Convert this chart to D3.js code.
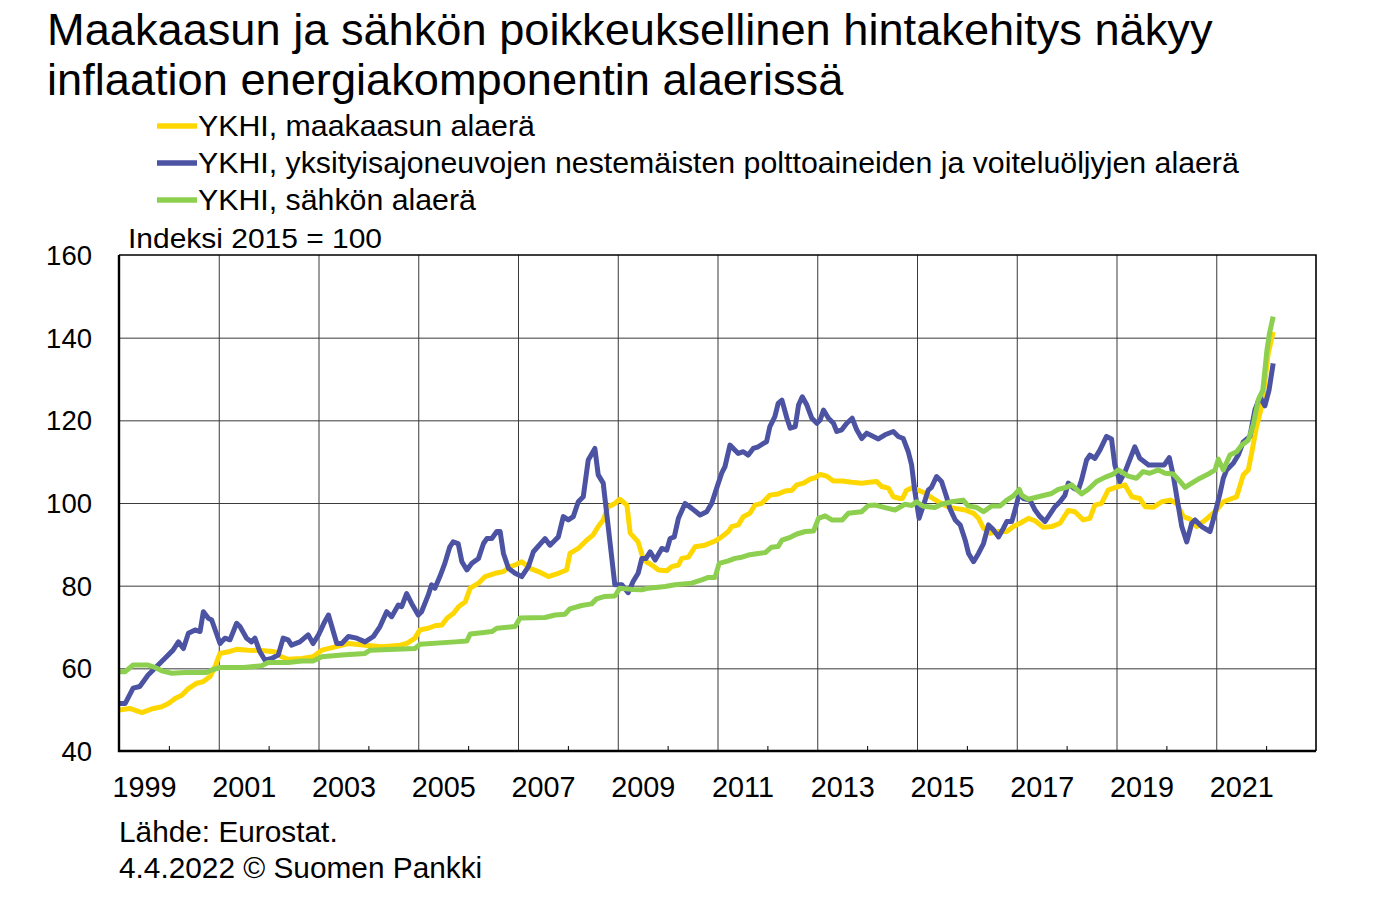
<!DOCTYPE html>
<html>
<head>
<meta charset="utf-8">
<script src="https://cdn.jsdelivr.net/npm/d3@7"></script>
<style>
  html, body { margin: 0; padding: 0; background: #fff; }
  svg { display: block; font-family: "Liberation Sans", Arial, sans-serif; }
</style>
</head>
<body>
<svg id="chart" width="1387" height="906"></svg>
<script>
// ---- data (month index: 0 = Jan 1999) ----
const titleLines = ["Maakaasun ja sähkön poikkeuksellinen hintakehitys näkyy",
                    "inflaation energiakomponentin alaerissä"];
const seriesNames = ["YKHI, maakaasun alaerä",
                     "YKHI, yksityisajoneuvojen nestemäisten polttoaineiden ja voiteluöljyjen alaerä",
                     "YKHI, sähkön alaerä"];
const yTicks = [40, 60, 80, 100, 120, 140, 160];
const yearLabels = [1999, 2001, 2003, 2005, 2007, 2009, 2011, 2013, 2015, 2017, 2019, 2021];
const unitLabel = "Indeksi 2015 = 100";
const footerLines = ["Lähde: Eurostat.", "4.4.2022 © Suomen Pankki"];

const gasMonths = [0,2.6,5.5,8.3,10.3,11.9,13.5,15.1,16.7,18.7,20.3,21.9,23.1,24.3,26.3,28.3,31.1,34.3,37.5,39.1,40.7,44,46.7,48.8,52,55.2,59.2,63.2,67.2,69.2,71.2,72.4,74.4,76,77.7,78.9,80.5,81.7,83.3,84.5,86.5,88.1,90.5,92.5,94.1,95.3,96.9,98.9,100.9,103.3,105.7,107.7,108.5,110.5,112.5,114.1,115.3,116.5,117.7,119.3,120.5,122.2,123,124.9,126.2,128.2,129.8,131.8,133,134.6,135.4,137,138.6,141,143.4,145,146.6,147.4,149,150.2,151.8,153,154.6,156.6,158.6,160.3,161.9,163.1,164.7,166.3,167.5,168.7,170.3,171.9,174,176.3,178.7,180.5,182.3,183.5,185.1,186.3,187.9,188.5,189.5,190.7,191.8,193.5,195.8,197.8,199.9,201.2,203.6,205.6,206.8,208,209.6,211.6,213.6,215.2,216.8,218.8,220.4,222.4,224.4,226.4,228.4,230,232,233.6,234.8,236.4,238,239.6,242,243.7,245.6,246.9,248.9,250.9,252.9,254.5,256.1,257.7,259.3,260.9,262.1,264.1,265.7,267.3,268.9,270.5,271.7,272.5,273.7,274.9,275.7,276.5,277.7];
const gasValues = [49.9,50.3,49.3,50.3,50.7,51.5,52.7,53.5,55.1,56.4,56.8,58.0,60.4,63.6,64.0,64.6,64.4,64.3,64.0,62.8,62.2,62.4,62.8,64.4,65.2,66.0,65.6,65.2,65.5,66.0,67.3,69.3,69.7,70.3,70.5,72.1,73.3,74.9,76.1,79.4,80.6,82.2,83.0,83.4,84.6,85.0,85.8,84.2,83.4,82.2,83.0,83.8,87.8,89.0,91.0,92.3,94.3,95.9,99.1,99.9,100.9,99.5,92.7,90.6,86.2,85.0,83.8,83.6,84.6,85.0,86.6,86.9,89.4,89.8,90.8,91.8,93.1,94.3,94.7,96.7,97.5,99.5,99.9,101.9,102.2,102.9,103.1,104.4,104.8,105.8,106.1,106.9,106.5,105.3,105.3,105.0,104.8,105.0,105.2,104.0,103.6,101.5,101.1,101.1,103.1,103.6,103.3,102.6,101.1,99.9,98.9,98.7,98.3,97.5,96.3,93.9,92.7,93.1,93.1,94.3,95.1,96.3,95.7,94.1,94.3,95.1,98.2,97.9,95.9,96.3,99.5,99.9,103.1,103.7,104.4,101.5,101.1,99.1,99.0,100.3,100.7,99.9,96.7,96.1,94.3,95.5,96.5,98.3,100.3,100.9,101.5,106.8,108.0,112.0,118.5,123.3,129.3,136.2,141.4];

const fuelMonths = [0,1.5,3.4,5,7,9,11,13,14.3,15.5,16.7,18.3,19.5,20.3,21.5,22.3,24.3,25.5,26.7,28.3,29.1,30.7,31.9,32.7,33.9,35.1,36.7,38.3,39.5,40.7,41.5,43.5,45.5,46.7,48,49.5,50.4,52.4,53.6,55.2,57.2,59.2,61.2,62.8,64.4,65.6,67.2,68,69.2,70.4,72,72.8,74.4,75.2,76,77.2,78.4,79.6,80.4,81.6,82.5,83.7,84.9,86.5,87.7,88.5,89.7,90.9,91.7,92.5,93.7,95.3,96.9,98.5,99.7,102.5,103.7,104.9,105.7,106.9,108.1,109.3,110.5,111.7,112.9,114.5,115.3,116.5,117.7,119.3,121,122.5,123.7,124.9,125.8,126.8,127.8,129,130.6,131.8,132.6,133.6,134.6,136.2,137.8,139.8,141.4,142.6,143.8,145,145.8,147,149,150.2,151.4,152.6,153.8,155,155.8,156.6,157.8,158.6,159.5,160.7,161.5,162.7,163.5,164.4,165.5,166.7,167.9,168.7,169.5,170.7,171.9,172.7,173.9,175.1,176.4,177.5,178.7,179.9,181.5,182.7,184.3,186.3,187.5,188.7,189.9,190.7,191.5,192.5,193.5,194.7,195.5,196.7,197.9,199.1,199.9,201.2,202.4,203.6,204.4,205.6,206.8,208,209.2,210.4,211.6,212.8,213.6,214.8,215.6,216.6,217.6,219.2,220.4,221.6,222.8,223.6,225.2,226.4,227.6,228.4,229.7,230.8,231.6,232.8,233.6,234.8,236,237.6,238.8,239.6,240.8,242,244.4,245.6,247.7,249.7,251.5,252.7,253.7,254.9,255.7,256.9,258.1,258.9,260.5,262.5,263.7,264.9,265.7,266.5,268.1,269.3,270.5,272.1,273.3,274.5,275.7,276.7,277.7];
const fuelValues = [51.5,51.5,55.2,55.6,58.4,60.4,62.4,64.4,66.4,64.8,68.5,69.3,68.9,73.7,72.1,71.7,66.0,67.3,66.9,70.9,70.1,67.3,66.4,67.3,64.0,62.0,62.4,63.2,67.3,66.9,65.6,66.4,68.1,66.0,68.1,71.3,72.9,66.0,66.0,67.7,67.3,66.4,67.7,70.1,73.7,72.5,75.3,74.9,78.1,75.7,72.9,73.7,77.7,80.2,79.4,82.2,85.4,89.4,90.6,90.2,85.8,83.8,85.4,86.6,90.2,91.4,91.4,93.1,93.1,87.8,84.2,83.0,82.2,84.6,88.2,91.4,89.8,91.0,91.8,96.7,95.9,96.7,100.3,101.5,110.4,113.2,106.8,104.8,94.3,80.2,80.2,78.3,81.0,83.0,86.6,86.6,88.2,86.2,89.0,88.6,91.4,91.8,96.3,99.9,98.7,97.1,97.9,99.9,103.6,107.2,108.8,114.0,112.0,112.4,111.6,113.2,113.6,114.4,114.8,118.5,120.9,124.1,124.9,120.5,118.1,118.5,123.7,125.7,123.7,120.5,119.3,120.1,122.5,120.5,119.3,117.3,117.7,119.3,120.5,117.7,115.6,116.9,116.1,115.5,116.5,117.3,116.1,115.6,112.4,109.2,102.7,96.3,99.3,103.1,103.8,106.4,105.2,101.5,98.7,95.9,94.7,91.0,87.8,85.8,87.8,90.2,94.7,93.5,91.8,93.9,95.5,95.5,98.3,102.3,101.1,100.7,98.3,96.7,95.5,96.7,99.1,100.3,101.9,104.8,103.6,103.1,105.6,110.4,111.6,110.8,112.8,116.1,115.5,109.2,105.2,107.4,113.6,110.8,109.2,109.2,109.2,111.0,106.4,99.1,94.3,90.6,95.1,95.9,94.3,93.1,97.5,102.3,106.0,108.0,109.6,111.6,114.8,116.1,122.5,125.7,123.5,127.3,133.8];

const powerMonths = [0,1.5,3.4,7,8.7,10.3,12.7,16,21,22.3,24.3,30,34.3,35.9,40.7,44,46.7,48.8,53.6,59.2,60.4,71.2,72.4,80.9,83.7,84.5,87.3,89.7,90.9,95.3,96.5,102.5,104.9,107.3,108.5,111.3,113.7,114.9,116.9,119.3,120.5,123.4,125.8,127.4,131.4,133.8,137.8,140.2,141.8,143.4,144.4,146.6,148.2,149.5,151.4,153.8,155.5,157,158.6,159.5,161.5,163.1,165.1,167.1,168.3,169.9,171.5,174,175.5,177,178.7,180.3,182,184.3,186.7,189.1,190.7,191.9,193.5,196.3,197.9,200.3,203.1,204.3,206.4,208,210,212,213.6,215.2,216.6,217.2,218.8,221.2,224.4,226,228,229.2,231.6,233.2,235.2,237.2,239.2,240.4,242.8,244.8,246.4,248,250.1,251.7,253.7,255.3,256.5,258.1,260.1,262.1,263.7,264.5,265.7,267.3,268.9,270.1,271.7,272.9,274.1,275.2,276.2,276.8,277.7];
const powerValues = [59.2,59.2,60.8,60.8,60.2,59.4,58.8,59.0,59.0,59.6,60.2,60.2,60.6,61.4,61.4,61.8,61.8,62.8,63.2,63.6,64.4,64.8,65.8,66.4,66.6,68.3,68.6,68.9,69.7,70.1,72.2,72.3,72.9,73.1,74.4,75.2,75.6,76.8,77.4,77.5,79.4,79.1,79.0,79.4,79.8,80.2,80.6,81.4,82.0,82.0,85.4,86.0,86.6,86.8,87.4,87.8,88.0,89.3,89.5,91.0,91.7,92.5,93.1,93.2,96.3,96.9,95.9,95.9,97.5,97.7,97.9,99.4,99.5,98.9,98.3,99.7,99.4,100.3,99.2,98.9,99.7,100.3,100.7,99.3,98.9,97.9,99.3,99.3,100.7,101.7,103.3,101.9,100.9,101.5,102.3,103.3,103.8,104.4,102.2,103.3,105.2,106.2,107.0,108.0,106.5,106.0,107.6,107.2,108.0,107.2,107.0,105.2,103.8,104.8,106.0,107.0,108.0,110.6,108.0,111.6,112.4,114.0,115.2,118.9,124.9,127.3,137.0,141.0,145.1];

const seriesColors = ["#FFD700", "#4B53A2", "#8DCF4F"];

// ---- layout ----
const svg = d3.select("#chart");
const L = 119, R = 1316, T = 255, B = 751;
const x = d3.scaleLinear().domain([0, 288]).range([L, R]);
const y = d3.scaleLinear().domain([40, 160]).range([B, T]);

// title
svg.append("g").selectAll("text").data(titleLines).join("text")
  .attr("x", 47).attr("y", (d, i) => 45 + i * 50)
  .attr("font-size", 45.2).attr("fill", "#000").text(d => d);

// legend
const leg = svg.append("g").selectAll("g").data(seriesNames).join("g")
  .attr("transform", (d, i) => `translate(0, ${136 + i * 37})`);
leg.append("line").attr("x1", 157).attr("x2", 197).attr("y1", -10).attr("y2", -10)
  .attr("stroke", (d, i) => seriesColors[i]).attr("stroke-width", 5.5);
leg.append("text").attr("x", 198).attr("y", 0).attr("font-size", 30.3).text(d => d);

// unit label
svg.append("text").attr("x", 128).attr("y", 248).attr("font-size", 28)
  .attr("textLength", 254).attr("lengthAdjust", "spacingAndGlyphs").text(unitLabel);

// horizontal gridlines
svg.append("g").attr("transform", `translate(${L},0)`)
  .call(d3.axisLeft(y).tickValues(yTicks.filter(v => v > 40 && v < 160)).tickSize(-(R - L)).tickFormat(""))
  .call(g => g.select(".domain").remove())
  .call(g => g.selectAll(".tick line").attr("stroke", "#3a3a3a").attr("stroke-width", 1));

// vertical gridlines at every second year
const gridMonths = d3.range(24, 288, 24);
svg.append("g").attr("transform", `translate(0,${B})`)
  .call(d3.axisBottom(x).tickValues(gridMonths).tickSize(-(B - T)).tickFormat(""))
  .call(g => g.select(".domain").remove())
  .call(g => g.selectAll(".tick line").attr("stroke", "#3a3a3a").attr("stroke-width", 1));

// minor ticks (even years)
svg.append("g").attr("transform", `translate(0,${B})`)
  .call(d3.axisBottom(x).tickValues(d3.range(12, 288, 24)).tickSize(-5).tickFormat(""))
  .call(g => g.select(".domain").remove())
  .call(g => g.selectAll(".tick line").attr("stroke", "#000").attr("stroke-width", 1));

// frame top/right
svg.append("path").attr("d", `M${L},${T}H${R}V${B}`).attr("fill", "none")
  .attr("stroke", "#000").attr("stroke-width", 1.6);

// y labels
svg.append("g").attr("transform", `translate(${L},0)`)
  .call(d3.axisLeft(y).tickValues(yTicks).tickSize(0).tickPadding(27))
  .call(g => g.select(".domain").remove())
  .call(g => g.selectAll("text").attr("font-size", 27.5).attr("font-family", "Liberation Sans, Arial, sans-serif")
    .attr("fill", "#000").attr("dy", "0.34em"));

// x labels (centred in each odd year)
svg.append("g").attr("transform", `translate(0,${B})`)
  .call(d3.axisBottom(x).tickValues(yearLabels.map(yr => (yr - 1999) * 12 + 6)).tickSize(0).tickPadding(0)
    .tickFormat(m => String(1999 + Math.floor(m / 12))))
  .call(g => g.select(".domain").remove())
  .call(g => g.selectAll("text").attr("font-size", 28.8).attr("font-family", "Liberation Sans, Arial, sans-serif")
    .attr("fill", "#000").attr("y", 46).attr("dy", 0));

// series lines
const line = d3.line().x(d => x(d[0])).y(d => y(d[1]));
const series = [
  d3.zip(gasMonths, gasValues),
  d3.zip(fuelMonths, fuelValues),
  d3.zip(powerMonths, powerValues)
];
svg.append("g").selectAll("path").data(series).join("path")
  .attr("d", line).attr("fill", "none")
  .attr("stroke", (d, i) => seriesColors[i]).attr("stroke-width", 5)
  .attr("stroke-linejoin", "round").attr("stroke-linecap", "butt");

// axes lines (left and bottom)
svg.append("path").attr("d", `M${L},${T}V${B}H${R}`).attr("fill", "none")
  .attr("stroke", "#000").attr("stroke-width", 2.4);

// footer
svg.append("g").selectAll("text").data(footerLines).join("text")
  .attr("x", 119).attr("y", (d, i) => 842 + i * 36).attr("font-size", 29.8).text(d => d);
</script>
</body>
</html>
